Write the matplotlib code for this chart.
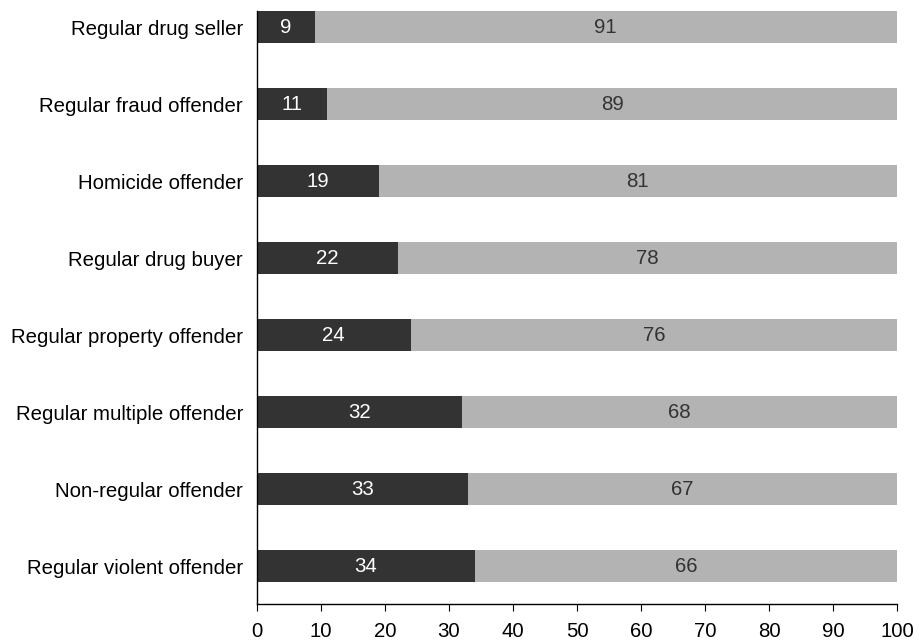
import numpy as np
import matplotlib
matplotlib.use("Agg")
import matplotlib.pyplot as plt

plt.rcParams["font.family"] = ["Liberation Sans", "DejaVu Sans"]

categories = [
    "Regular drug seller",
    "Regular fraud offender",
    "Homicide offender",
    "Regular drug buyer",
    "Regular property offender",
    "Regular multiple offender",
    "Non-regular offender",
    "Regular violent offender",
]
yes_vals = [9, 11, 19, 22, 24, 32, 33, 34]
no_vals = [91, 89, 81, 78, 76, 68, 67, 66]

DARK = "#333333"
LIGHT = "#b3b3b3"
FS = 14.7

fig = plt.figure(figsize=(9.23, 6.41), dpi=100)
ax = fig.add_axes([0.2784, 0.0577, 0.6934, 0.925])

y = np.arange(len(categories))[::-1]
h = 0.415
ax.barh(y, yes_vals, height=h, color=DARK)
ax.barh(y, no_vals, left=yes_vals, height=h, color=LIGHT)

for yi, a, b in zip(y, yes_vals, no_vals):
    ax.text(a / 2, yi, str(a), ha="center", va="center", color="white", fontsize=FS)
    ax.text(a + b / 2, yi, str(b), ha="center", va="center", color="#333333", fontsize=FS)

ax.set_xlim(0, 100)
ax.set_ylim(-0.49, 7 + h / 2)
ax.set_xticks(range(0, 101, 10))
ax.set_yticks(y)
ax.set_yticklabels(categories)
ax.tick_params(axis="x", labelsize=FS, length=5, direction="out", pad=8)
ax.tick_params(axis="y", labelsize=FS, length=0, pad=10)
for s in ["top", "right"]:
    ax.spines[s].set_visible(False)
ax.spines["left"].set_linewidth(1.0)
ax.spines["bottom"].set_linewidth(1.0)

fig.savefig("out.png", dpi=100)
